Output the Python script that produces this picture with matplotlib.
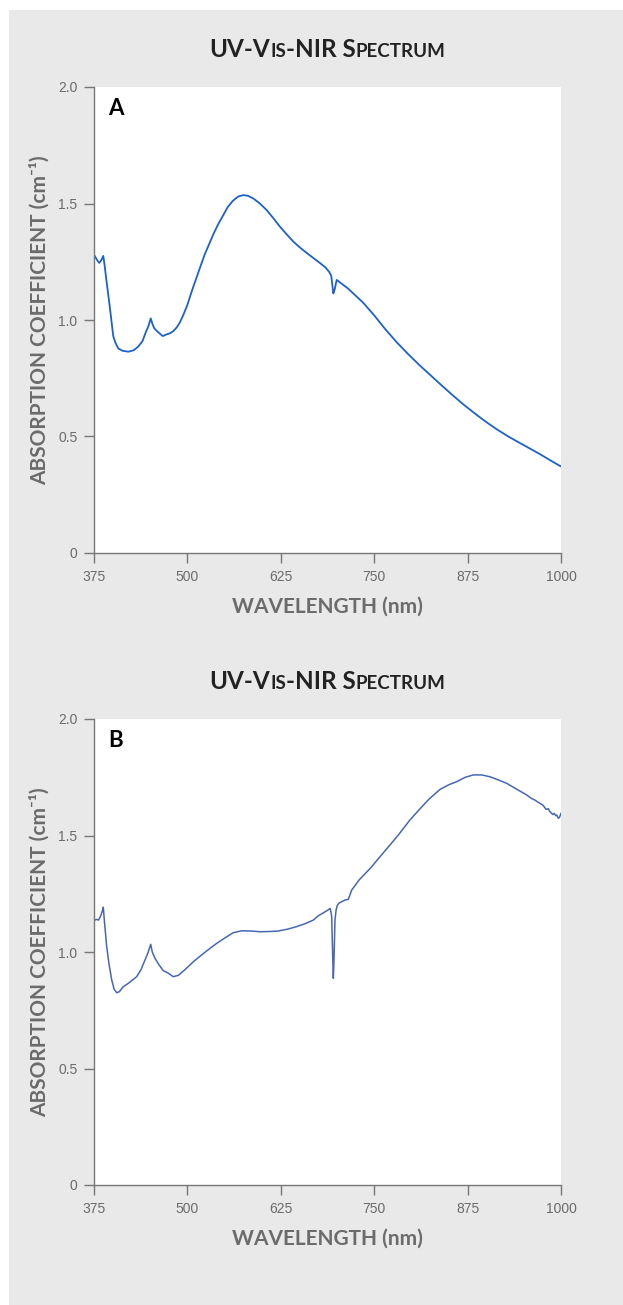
"""Two UV-Vis-NIR absorption spectra (panels A and B) on a grey card."""

import matplotlib
matplotlib.use("Agg")
import matplotlib.pyplot as plt
from matplotlib.patches import Rectangle

# ── Data ──
WL_A = [375, 376.3, 379, 382, 384.5, 387.4, 389, 392, 395.5, 400.8, 404, 407.5,
        413, 421, 428, 434.3, 440, 444.6, 448, 450.9, 453, 455.7, 460, 467, 472,
        476.7, 481, 485.7, 490, 495, 500, 506, 512, 518, 523, 529, 535, 541,
        548, 554, 561, 568, 575, 581, 588, 597, 606, 615, 624, 633, 642, 651,
        660, 669, 678, 685, 690, 692.5, 694, 695.3, 697, 699.8, 715, 735, 750,
        765, 780, 795, 810, 825, 840, 855, 870, 885, 900, 914, 930, 945, 958,
        972, 985, 999, 1000]
ABS_A = [1.28, 1.273, 1.258, 1.245, 1.255, 1.275, 1.24, 1.16, 1.073, 0.93, 0.90,
         0.878, 0.868, 0.864, 0.87, 0.886, 0.91, 0.95, 0.975, 1.007, 0.985,
         0.964, 0.95, 0.931, 0.938, 0.943, 0.952, 0.968, 0.99, 1.025, 1.065,
         1.125, 1.18, 1.235, 1.28, 1.325, 1.37, 1.41, 1.45, 1.485, 1.512,
         1.53, 1.536, 1.533, 1.522, 1.5, 1.472, 1.437, 1.40, 1.367, 1.336,
         1.31, 1.287, 1.265, 1.243, 1.225, 1.205, 1.19, 1.15, 1.114, 1.13,
         1.172, 1.135, 1.075, 1.02, 0.96, 0.905, 0.855, 0.808, 0.764, 0.72,
         0.677, 0.636, 0.598, 0.562, 0.531, 0.499, 0.472, 0.449, 0.424, 0.399,
         0.373, 0.372]

WL_B = [375, 378, 381, 384, 386, 387.4, 389, 392, 395, 398.7, 402, 405.4, 409,
        414.2, 422, 432.1, 438, 443.3, 447, 450.9, 453, 456.6, 462, 467.7, 474,
        481.1, 488, 497, 507.9, 520, 530, 539.2, 550, 561.4, 572.7, 585, 597.2,
        610, 621.6, 634, 646.2, 658, 668.5, 675, 683, 688, 690.9, 692, 693.1,
        694.3, 695.3, 696.3, 697.5, 699, 700.6, 703, 706.5, 710.9, 715.3, 717,
        719.9, 730, 745, 757.8, 770, 783, 797.9, 810, 823, 838.1, 850, 860.4,
        872, 882.6, 893.9, 905, 915, 927.3, 940, 954.1, 960, 965, 971.9, 976,
        980, 983, 985.3, 989, 991, 993, 994.3, 996.4, 998, 1000]
ABS_B = [1.135, 1.14, 1.137, 1.155, 1.175, 1.192, 1.13, 1.023, 0.95, 0.88, 0.84,
         0.825, 0.83, 0.851, 0.868, 0.894, 0.925, 0.966, 0.995, 1.033, 1.0,
         0.973, 0.945, 0.92, 0.91, 0.894, 0.90, 0.925, 0.958, 0.99, 1.015,
         1.037, 1.06, 1.083, 1.091, 1.09, 1.087, 1.088, 1.09, 1.098, 1.109,
         1.122, 1.137, 1.155, 1.17, 1.18, 1.187, 1.175, 1.152, 1.0, 0.887, 0.98,
         1.137, 1.18, 1.20, 1.21, 1.216, 1.223, 1.226, 1.24, 1.266, 1.31, 1.36,
         1.409, 1.455, 1.505, 1.567, 1.61, 1.655, 1.698, 1.718, 1.731, 1.75,
         1.76, 1.76, 1.752, 1.74, 1.724, 1.70, 1.674, 1.66, 1.652, 1.638, 1.63,
         1.612, 1.615, 1.602, 1.59, 1.595, 1.585, 1.588, 1.574, 1.578, 1.595]

X_TICKS = [375, 500, 625, 750, 875, 1000]
Y_TICKS = [0, 0.5, 1.0, 1.5, 2.0]
Y_TICK_LABELS = ["0", "0.5", "1.0", "1.5", "2.0"]

PANELS = [
    ("A", WL_A, ABS_A, "#1c61cc", 1.3),
    ("B", WL_B, ABS_B, "#4666b6", 1.1),
]

W, H = 623, 1305
GREY_BG = "#e9e9e9"
AXIS_GREY = "#777777"
TEXT_GREY = "#6b6b6b"
HEAD_FONT = ["Lato", "DejaVu Sans"]


def fx(px):
    return px / W


def fy(py):
    return 1 - py / H


def small_caps_title(fig, renderer, x_center_px, baseline_px, pieces):
    """Draw text pieces of mixed size side by side, centred on x_center_px."""
    texts = []
    for s, size in pieces:
        t = fig.text(0, fy(baseline_px), s, fontsize=size, fontweight="bold",
                     family=HEAD_FONT, color="#222222", va="baseline", ha="left")
        texts.append(t)
    widths = [t.get_window_extent(renderer).width for t in texts]
    x = x_center_px - sum(widths) / 2
    for t, w in zip(texts, widths):
        t.set_x(fx(x))
        x += w


def main():
    fig = plt.figure(figsize=(W / 100, H / 100), dpi=100, facecolor="white")
    fig.patches.append(Rectangle((fx(9), 0), 1 - fx(9), fy(10), transform=fig.transFigure,
                                 facecolor=GREY_BG, edgecolor="none", zorder=-10))
    renderer = fig.canvas.get_renderer()

    tops = [87, 719]
    for (letter, wl, ab, color, lw), top in zip(PANELS, tops):
        bottom = top + 466
        ax = fig.add_axes([fx(94), fy(bottom), fx(561 - 94), (bottom - top) / H])
        ax.set_facecolor("white")
        ax.plot(wl, ab, color=color, lw=lw, solid_joinstyle="round")
        ax.set_xlim(375, 1000)
        ax.set_ylim(0, 2.0)
        ax.set_xticks(X_TICKS)
        ax.set_yticks(Y_TICKS)
        ax.set_yticklabels(Y_TICK_LABELS)
        for side in ("top", "right"):
            ax.spines[side].set_visible(False)
        for side in ("left", "bottom"):
            ax.spines[side].set_color(AXIS_GREY)
            ax.spines[side].set_linewidth(1.0)
        ax.tick_params(direction="out", length=7, width=1.0, color=AXIS_GREY,
                       labelcolor=TEXT_GREY, labelsize=10, pad=5)
        for lab in ax.get_xticklabels() + ax.get_yticklabels():
            lab.set_family("Liberation Sans")

        ax.text(0.03, 0.976, letter, transform=ax.transAxes, fontsize=16,
                fontweight="bold", family=HEAD_FONT, color="black",
                ha="left", va="top")

        small_caps_title(fig, renderer, 327.5, top - 30,
                         [("UV-V", 17.5), ("IS", 13.5), ("-NIR S", 17.5), ("PECTRUM", 13.5)])

        fig.text(fx(327.5), fy(bottom + 54), "WAVELENGTH (nm)", fontsize=15,
                 fontweight="bold", family=HEAD_FONT, color=TEXT_GREY,
                 ha="center", va="center")
        fig.text(fx(40), fy(top + 233), "ABSORPTION COEFFICIENT (cm\u207b\u00b9)",
                 fontsize=15, fontweight="bold", family=HEAD_FONT, color=TEXT_GREY,
                 rotation=90, ha="center", va="center")

    fig.savefig("out.png", dpi=100, facecolor=fig.get_facecolor())


if __name__ == "__main__":
    main()
